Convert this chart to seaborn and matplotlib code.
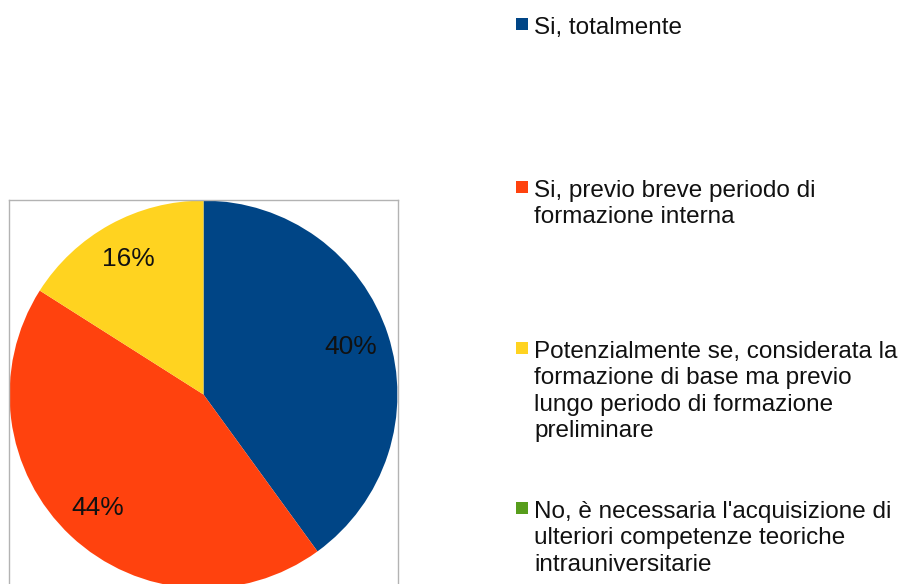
import matplotlib
matplotlib.use("Agg")
import matplotlib.pyplot as plt
import seaborn as sns
from matplotlib.patches import Rectangle

# Risposte e percentuali
categories = [
    "Si, totalmente",
    "Si, previo breve periodo di\nformazione interna",
    "Potenzialmente se, considerata la\nformazione di base ma previo\nlungo periodo di formazione\npreliminare",
    "No, è necessaria l'acquisizione di\nulteriori competenze teoriche\nintrauniversitarie",
]
percentages = [40, 44, 16, 0]
colors = ["#004586", "#FF420E", "#FFD320", "#579D1C"]

sns.set_theme(style="white")
plt.rcParams["font.family"] = ["Liberation Sans", "DejaVu Sans"]

W, H = 906, 584
fig = plt.figure(figsize=(W / 100, H / 100), dpi=100)

# Pie area (square frame, cut at the bottom of the image)
ax = fig.add_axes([9 / W, -5 / H, 389 / W, 389 / H])
wedges, texts, autotexts = ax.pie(
    percentages,
    colors=colors,
    startangle=90,
    counterclock=False,
    radius=1.0,
    autopct=lambda p: f"{p:.0f}%" if p > 0 else "",
    pctdistance=0.8,
    textprops={"fontsize": 19, "color": "#111111"},
    wedgeprops={"linewidth": 0},
)
ax.set_xlim(-1.003, 1.003)
ax.set_ylim(-1.003, 1.003)
ax.set_aspect("equal")
ax.set_frame_on(True)
for s in ax.spines.values():
    s.set_color("#b3b3b3")
    s.set_linewidth(1)

# Legend on the right, entries spread vertically
baselines = [33, 196, 357, 517]
for label, col, yb in zip(categories, colors, baselines):
    fig.patches.append(Rectangle((516 / W, 1 - (yb - 3) / H), 12 / W, 12 / H,
                                 transform=fig.transFigure, facecolor=col,
                                 edgecolor="none"))
    fig.text(534 / W, 1 - (yb - 16) / H, label, fontsize=17.5, va="top",
             ha="left", color="#111111", linespacing=1.26)

fig.savefig("out.png", dpi=100)
